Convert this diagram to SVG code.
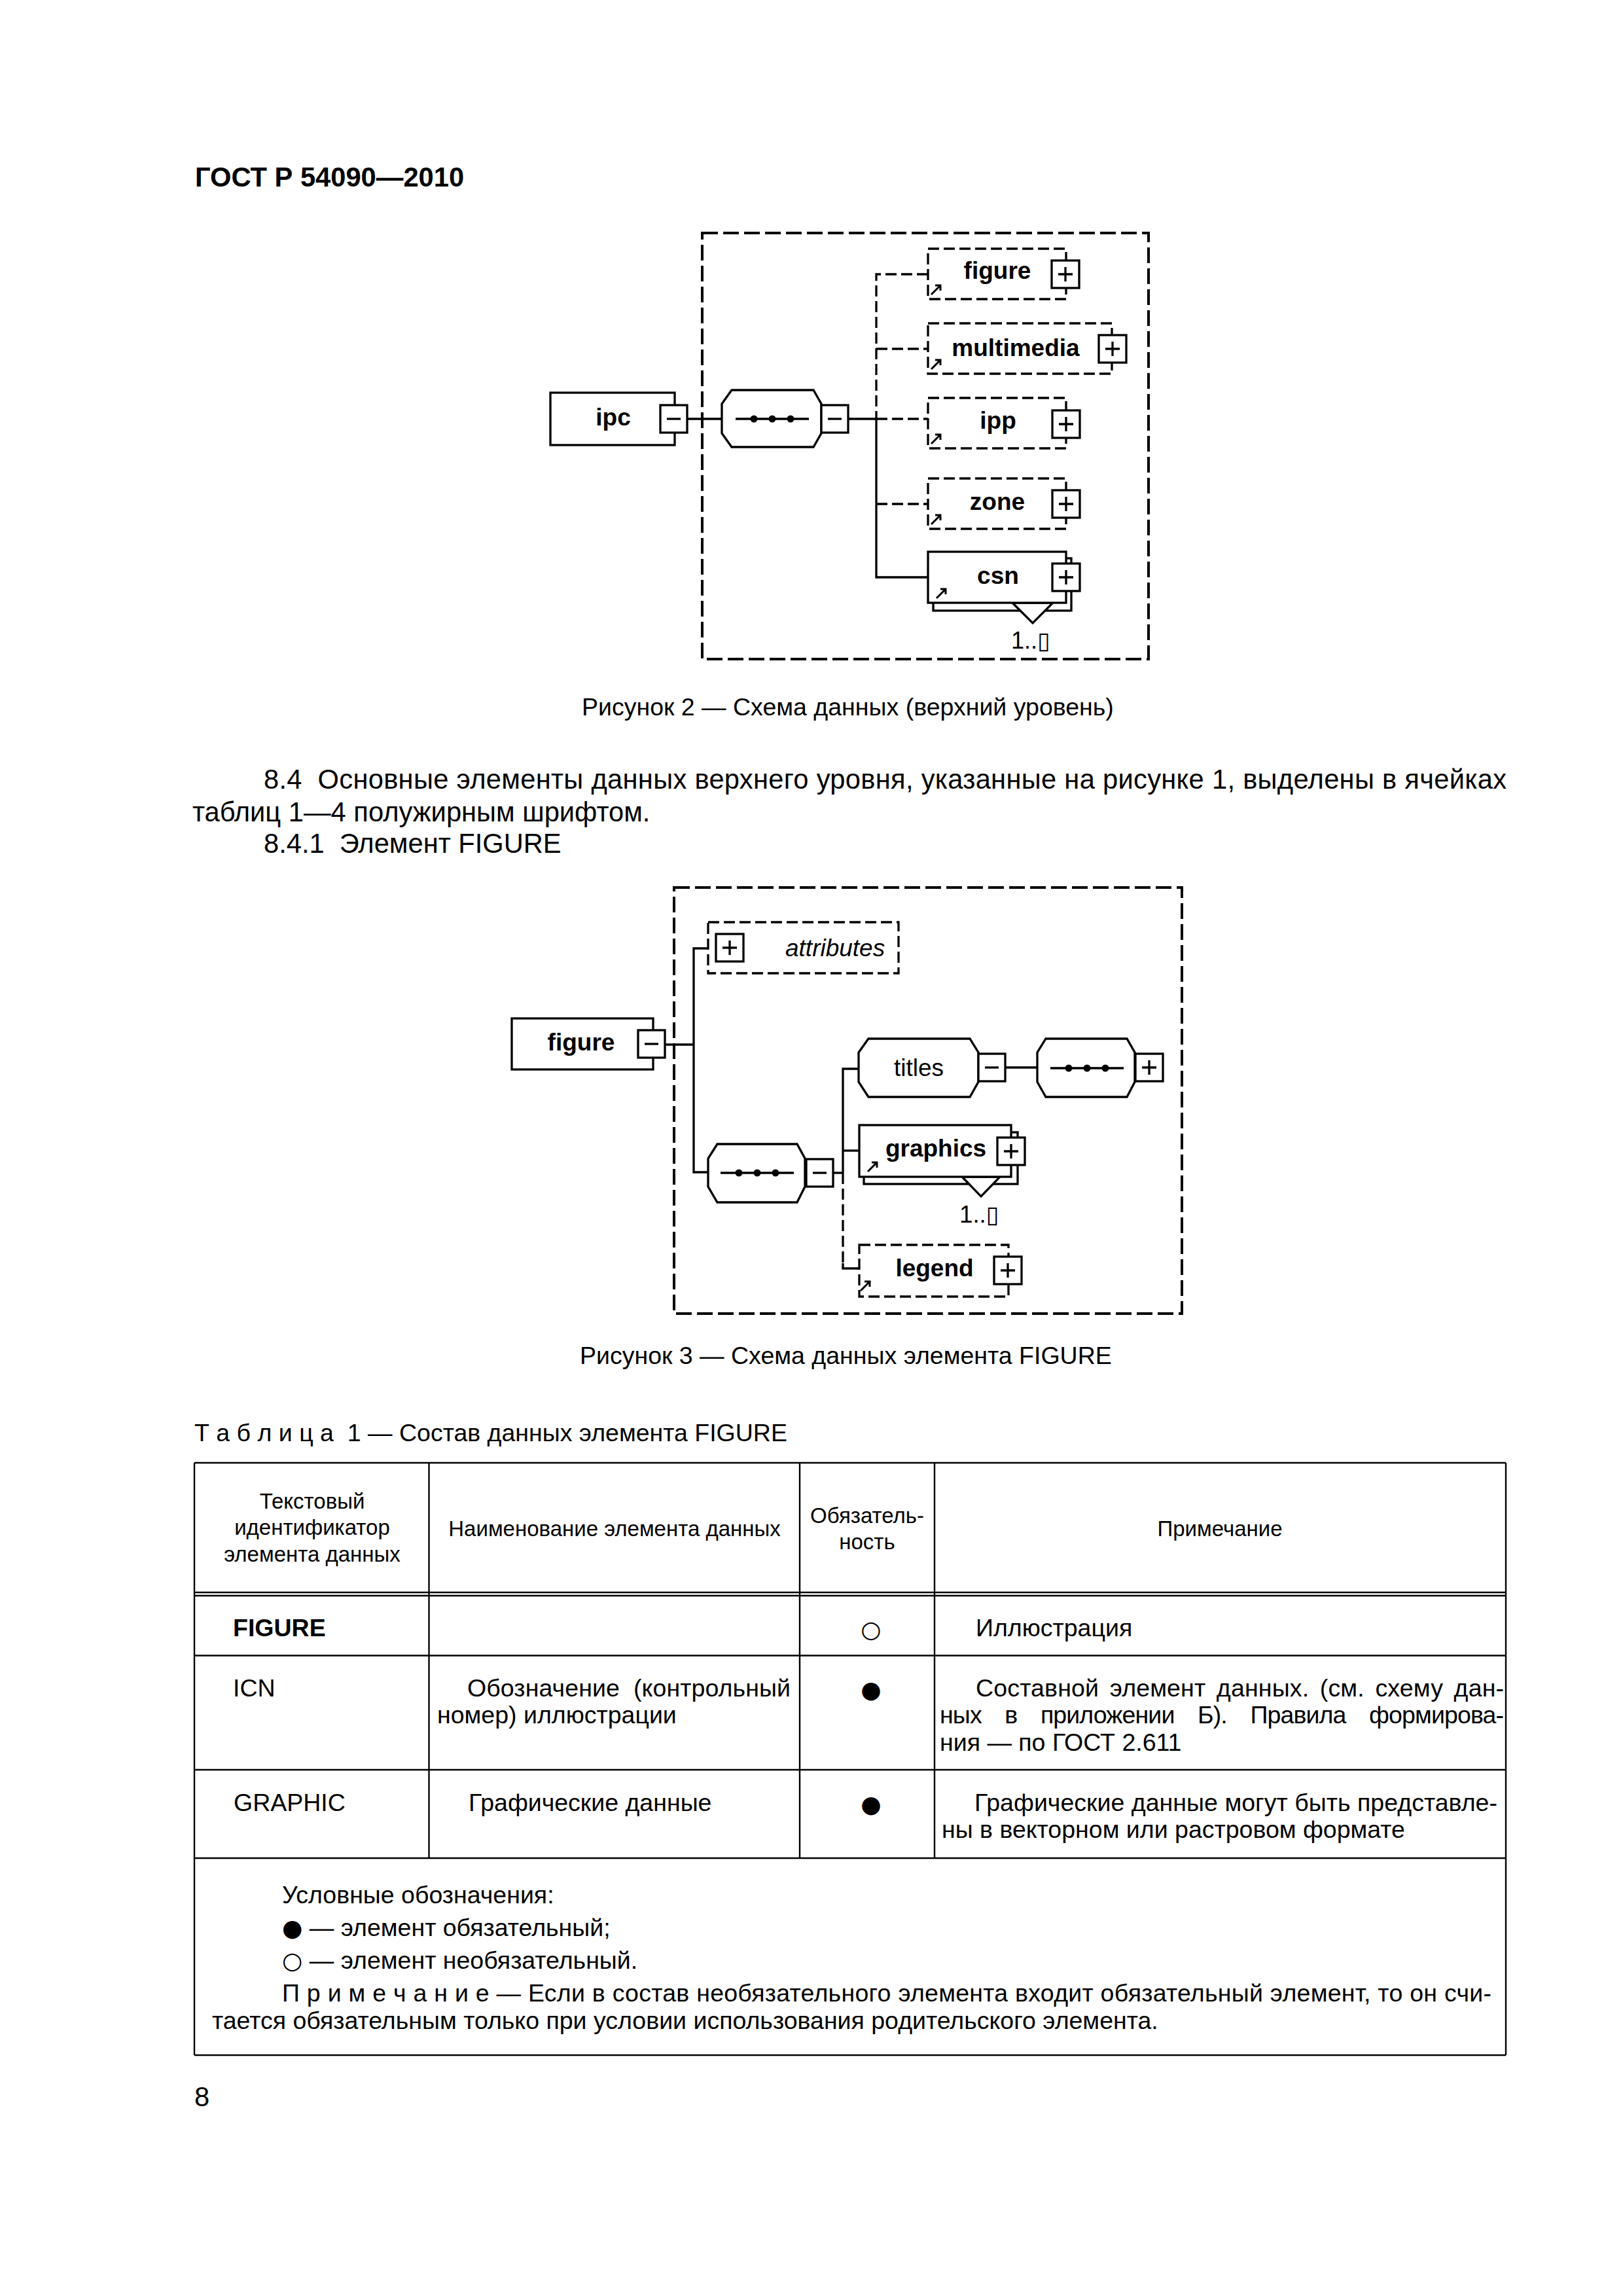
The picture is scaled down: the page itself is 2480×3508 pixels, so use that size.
<svg xmlns="http://www.w3.org/2000/svg" xmlns:xlink="http://www.w3.org/1999/xlink" width="2480" height="3508" viewBox="0 0 2480 3508">
<style>
.t{font-family:"Liberation Sans",Arial,"DejaVu Sans",sans-serif;fill:#000}
.b{font-weight:bold}
.i{font-style:italic}
.f10{font-size:41.67px}
.f9{font-size:37.5px}
.f8{font-size:33px}
.dg{font-size:37px}
.m{text-anchor:middle}
.bl{font-family:"DejaVu Sans",sans-serif;font-size:36px}
.n{fill:#fff;stroke:#000;stroke-width:3.3}
.d{fill:#fff;stroke:#000;stroke-width:3.3;stroke-dasharray:17 7}
.ln{fill:none;stroke:#000;stroke-width:3.3}
.dl{fill:none;stroke:#000;stroke-width:3.3;stroke-dasharray:17 7}
.fr{fill:none;stroke:#000;stroke-width:4;stroke-dasharray:24 8}
.tb{fill:none;stroke:#000;stroke-width:2.4}
</style>
<defs>
<g id="plus"><rect x="0" y="0" width="42" height="42" fill="#fff" stroke="#000" stroke-width="3.3"/><path d="M10 21H32M21 10V32" stroke="#000" stroke-width="3.3"/></g>
<g id="minus"><rect x="0" y="0" width="41" height="42" fill="#fff" stroke="#000" stroke-width="3.3"/><path d="M10 21H31" stroke="#000" stroke-width="3.3"/></g>
<path id="lnk" d="M0 14L14 0M6 0H14V8" fill="none" stroke="#000" stroke-width="3"/>
<g id="seqdots"><path d="M0 0H112" stroke="#000" stroke-width="3.3"/><circle cx="28" cy="0" r="5.5" fill="#000"/><circle cx="56" cy="0" r="5.5" fill="#000"/><circle cx="84" cy="0" r="5.5" fill="#000"/></g>
</defs>
<rect x="0" y="0" width="2480" height="3508" fill="#fff"/>

<g id="page-text">
<text class="t b f10" x="298" y="285">ГОСТ Р 54090—2010</text>
<text class="t f9" x="889" y="1093">Рисунок 2 — Схема данных (верхний уровень)</text>
<text class="t f10" x="403" y="1205" textLength="1899" lengthAdjust="spacing" xml:space="preserve">8.4  Основные элементы данных верхнего уровня, указанные на рисунке 1, выделены в ячейках</text>
<text class="t f10" x="294" y="1255">таблиц 1—4 полужирным шрифтом.</text>
<text class="t f10" x="403" y="1303" xml:space="preserve">8.4.1  Элемент FIGURE</text>
<text class="t f9" x="886" y="2084">Рисунок 3 — Схема данных элемента FIGURE</text>
<text class="t f9" x="297" y="2202" xml:space="preserve">Т а б л и ц а  1 — Состав данных элемента FIGURE</text>
<text class="t f10" x="297" y="3218">8</text>
</g>

<!-- Figure 2 -->
<g id="fig2-frame"><rect class="fr" x="1073" y="356" width="682" height="651"/></g>
<g id="fig2-connectors">
<path class="ln" d="M1051 640H1103"/>
<path class="ln" d="M1295 640H1339"/>
<path class="dl" d="M1418 419H1339V640"/>
<path class="dl" d="M1339 533H1418"/>
<path class="dl" d="M1339 640H1418"/>
<path class="dl" d="M1339 770H1418"/>
<path class="ln" d="M1339 640V882H1418"/>
</g>
<g id="ipc">
<rect class="n" x="841" y="600" width="190" height="80"/>
<text class="t b dg m" x="937" y="650">ipc</text>
<use href="#minus" x="1009" y="619"/>
</g>
<g id="fig2-sequence">
<polygon class="n" points="1118,596 1243,596 1255,617 1255,662 1243,683 1118,683 1103,662 1103,617"/>
<use href="#seqdots" x="1124" y="640"/>
<use href="#minus" x="1255" y="619"/>
</g>
<g id="fig2-figure">
<rect class="d" x="1418" y="380" width="211" height="77"/>
<text class="t b dg m" x="1524" y="426">figure</text>
<use href="#lnk" x="1423" y="436"/>
<use href="#plus" x="1607" y="398"/>
</g>
<g id="multimedia">
<rect class="d" x="1418" y="494" width="281" height="77"/>
<text class="t b dg m" x="1552" y="544">multimedia</text>
<use href="#lnk" x="1423" y="550"/>
<use href="#plus" x="1679" y="512"/>
</g>
<g id="ipp">
<rect class="d" x="1418" y="608" width="211" height="77"/>
<text class="t b dg m" x="1525" y="655">ipp</text>
<use href="#lnk" x="1423" y="664"/>
<use href="#plus" x="1608" y="627"/>
</g>
<g id="zone">
<rect class="d" x="1418" y="731" width="211" height="77"/>
<text class="t b dg m" x="1524" y="779">zone</text>
<use href="#lnk" x="1423" y="787"/>
<use href="#plus" x="1608" y="749"/>
</g>
<g id="csn">
<rect class="n" x="1426" y="853" width="211" height="80"/>
<polygon class="n" points="1547,921 1578,952 1609,921"/>
<rect class="n" x="1418" y="843" width="211" height="78"/>
<text class="t b dg m" x="1525" y="892">csn</text>
<use href="#lnk" x="1431" y="900"/>
<use href="#plus" x="1608" y="861"/>
<text class="t" x="1545" y="991" font-size="36" textLength="60" lengthAdjust="spacingAndGlyphs">1..▯</text>
</g>

<!-- Figure 3 -->
<g id="fig3-frame"><rect class="fr" x="1030" y="1356" width="776" height="651"/></g>
<g id="fig3-connectors">
<path class="ln" d="M1016 1596H1060"/>
<path class="ln" d="M1082 1449H1060V1791H1082"/>
<path class="ln" d="M1272 1792H1288"/>
<path class="ln" d="M1312 1633H1288V1792"/>
<path class="ln" d="M1288 1758H1313"/>
<path class="dl" d="M1288 1792V1938"/>
<path class="ln" d="M1288 1930V1938H1313"/>
<path class="ln" d="M1536 1631H1585"/>
</g>
<g id="fig3-figure">
<rect class="n" x="782" y="1556" width="216" height="78"/>
<text class="t b dg m" x="888" y="1605">figure</text>
<use href="#minus" x="975" y="1574"/>
</g>
<g id="attributes">
<rect class="d" x="1082" y="1409" width="291" height="78"/>
<use href="#plus" x="1094" y="1427"/>
<text class="t i dg" x="1200" y="1461">attributes</text>
</g>
<g id="fig3-sequence">
<polygon class="n" points="1096,1748 1218,1748 1230,1770 1230,1813 1218,1837 1096,1837 1082,1813 1082,1770"/>
<use href="#seqdots" x="1101" y="1792"/>
<use href="#minus" x="1232" y="1771"/>
</g>
<g id="titles">
<polygon class="n" points="1327,1587 1482,1587 1495,1608 1495,1653 1482,1676 1327,1676 1312,1653 1312,1608"/>
<text class="t dg m" x="1404" y="1644">titles</text>
<use href="#minus" x="1495" y="1610"/>
</g>
<g id="titles-sequence">
<polygon class="n" points="1598,1587 1722,1587 1734,1608 1734,1653 1722,1676 1598,1676 1585,1653 1585,1608"/>
<use href="#seqdots" x="1605" y="1632"/>
<use href="#plus" x="1735" y="1610"/>
</g>
<g id="graphics">
<rect class="n" x="1320" y="1730" width="235" height="79"/>
<polygon class="n" points="1470,1798 1499,1828 1528,1798"/>
<rect class="n" x="1313" y="1719" width="232" height="79"/>
<text class="t b dg m" x="1430" y="1767">graphics</text>
<use href="#lnk" x="1326" y="1776"/>
<use href="#plus" x="1524" y="1738"/>
<text class="t" x="1466" y="1868" font-size="36" textLength="61" lengthAdjust="spacingAndGlyphs">1..▯</text>
</g>
<g id="legend">
<rect class="d" x="1313" y="1902" width="228" height="79"/>
<text class="t b dg m" x="1428" y="1950">legend</text>
<use href="#lnk" x="1315" y="1958"/>
<use href="#plus" x="1519" y="1920"/>
</g>

<!-- Table 1 -->
<g id="table-lines">
<path class="tb" d="M297 2235H2301M297 2433H2301M297 2438H2301M297 2529.5H2301M297 2704H2301M297 2839H2301M297 3140H2301"/>
<path class="tb" d="M297 2235V3140M2301 2235V3140M655.5 2235V2839M1222 2235V2839M1428 2235V2839"/>
</g>
<g id="table-text">
<text class="t f8 m" x="477" y="2305">Текстовый</text>
<text class="t f8 m" x="477" y="2345">идентификатор</text>
<text class="t f8 m" x="477" y="2386">элемента данных</text>
<text class="t f8 m" x="939" y="2347">Наименование элемента данных</text>
<text class="t f8 m" x="1325" y="2327">Обязатель-</text>
<text class="t f8 m" x="1325" y="2367">ность</text>
<text class="t f8 m" x="1864" y="2347">Примечание</text>

<text class="t b f9" x="356" y="2500">FIGURE</text>
<text class="bl m" x="1331" y="2502">○</text>
<text class="t f9" x="1491" y="2500">Иллюстрация</text>

<text class="t f9" x="356" y="2592">ICN</text>
<text class="t f9" x="714" y="2592" textLength="494" lengthAdjust="spacing" xml:space="preserve">Обозначение  (контрольный</text>
<text class="t f9" x="668" y="2633">номер) иллюстрации</text>
<text class="bl m" x="1331" y="2594">●</text>
<text class="t f9" x="1491" y="2592" word-spacing="6" textLength="807" lengthAdjust="spacing">Составной элемент данных. (см. схему дан-</text>
<text class="t f9" x="1436" y="2633" word-spacing="26" textLength="862" lengthAdjust="spacing">ных в приложении Б). Правила формирова-</text>
<text class="t f9" x="1436" y="2675">ния — по ГОСТ 2.611</text>

<text class="t f9" x="357" y="2767">GRAPHIC</text>
<text class="t f9" x="716" y="2767">Графические данные</text>
<text class="bl m" x="1331" y="2769">●</text>
<text class="t f9" x="1489" y="2767" textLength="799" lengthAdjust="spacing">Графические данные могут быть представле-</text>
<text class="t f9" x="1439" y="2808">ны в векторном или растровом формате</text>

<text class="t f9" x="431" y="2908">Условные обозначения:</text>
<text class="t f9" x="431" y="2958"><tspan class="bl">●</tspan> — элемент обязательный;</text>
<text class="t f9" x="431" y="3008"><tspan class="bl">○</tspan> — элемент необязательный.</text>
<text class="t f9" x="431" y="3058" textLength="1848" lengthAdjust="spacing">П р и м е ч а н и е — Если в состав необязательного элемента входит обязательный элемент, то он счи-</text>
<text class="t f9" x="324" y="3100">тается обязательным только при условии использования родительского элемента.</text>
</g>
</svg>
